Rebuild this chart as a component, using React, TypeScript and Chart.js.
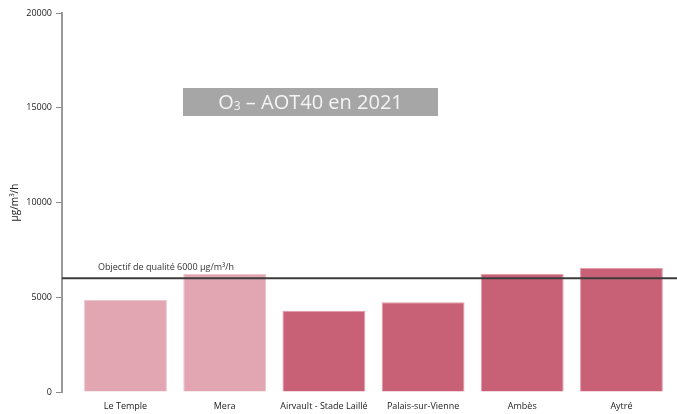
import React, { useEffect, useRef } from "react";
import { Chart, registerables } from "chart.js";

Chart.register(...registerables);

const stations = ["Le Temple", "Mera", "Airvault - Stade Laillé", "Palais-sur-Vienne", "Ambès", "Aytré"];
const aot40 = [4850, 6230, 4290, 4730, 6240, 6540];
const barFill = ["#e1a6b2", "#e1a6b2", "#c96176", "#c96176", "#c96176", "#c96176"];
const barEdge = ["#ecc4cc", "#ecc4cc", "#e39aa9", "#e39aa9", "#e39aa9", "#e39aa9"];
const yTicks = [0, 5000, 10000, 15000, 20000];
const objective = 6000;
const objectiveLabel = "Objectif de qualité 6000 µg/m³/h";
const yTitle = "µg/m³/h";
const FONT = "'Open Sans', 'Noto Sans', sans-serif";

const overlay = {
  id: "overlay",
  afterDatasetsDraw(chart: any) {
    const { ctx, chartArea, scales } = chart;
    const y = scales.y.getPixelForValue(objective);
    ctx.save();
    ctx.strokeStyle = "#3c3c3c";
    ctx.lineWidth = 2;
    ctx.beginPath();
    ctx.moveTo(chartArea.left, y);
    ctx.lineTo(chart.width, y);
    ctx.stroke();
    ctx.fillStyle = "#333";
    ctx.font = `9px ${FONT}`;
    ctx.textAlign = "left";
    ctx.textBaseline = "alphabetic";
    ctx.fillText(objectiveLabel, chartArea.left + 36, y - 8);

    const bx = chartArea.left + 121;
    const by = chartArea.top + 75;
    const bw = 255;
    const bh = 28;
    ctx.fillStyle = "#a6a6a6";
    ctx.fillRect(bx, by, bw, bh);
    ctx.fillStyle = "#f4f4f4";
    const main = `20px ${FONT}`;
    const sub = `12px ${FONT}`;
    const p1 = "O";
    const p2 = "3";
    const p3 = " – AOT40 en 2021";
    ctx.font = main;
    const w1 = ctx.measureText(p1).width;
    const w3 = ctx.measureText(p3).width;
    ctx.font = sub;
    const w2 = ctx.measureText(p2).width;
    let tx = bx + (bw - (w1 + w2 + w3)) / 2;
    const base = by + 21;
    ctx.font = main;
    ctx.fillText(p1, tx, base);
    tx += w1;
    ctx.font = sub;
    ctx.fillText(p2, tx, base + 1);
    tx += w2;
    ctx.font = main;
    ctx.fillText(p3, tx, base);
    ctx.restore();
  },
};

export default function App() {
  const ref = useRef<HTMLCanvasElement>(null);
  useEffect(() => {
    if (!ref.current) return;
    const chart = new Chart(ref.current, {
      type: "bar",
      data: {
        datasets: [
          {
            data: aot40.map((v, i) => ({ x: i, y: v })),
            backgroundColor: barFill,
            borderColor: barEdge,
            borderWidth: 1,
            categoryPercentage: 1,
            barPercentage: 0.835,
          },
        ],
      },
      options: {
        responsive: false,
        animation: false,
        layout: { padding: { top: 13, left: 0, right: 0, bottom: 0 } },
        plugins: { legend: { display: false }, tooltip: { enabled: false }, title: { display: false } },
        scales: {
          x: {
            type: "linear",
            offset: false,
            min: -0.64,
            max: 5.56,
            grid: { display: false, drawTicks: false, offset: false },
            border: { display: false },
            afterBuildTicks: (s: any) => {
              s.ticks = stations.map((_, i) => ({ value: i }));
            },
            afterFit: (s: any) => {
              s.height = 22;
            },
            ticks: {
              autoSkip: false,
              maxRotation: 0,
              padding: 9,
              color: "#222",
              font: { family: FONT, size: 9 },
              callback: (v: any) => stations[v] ?? "",
            },
          },
          y: {
            min: 0,
            max: 20000,
            afterBuildTicks: (s: any) => {
              s.ticks = yTicks.map((v) => ({ value: v }));
            },
            afterFit: (s: any) => {
              s.width = 62;
            },
            grid: { drawOnChartArea: false, tickLength: 6, color: "#888", tickWidth: 1 },
            border: { display: true, color: "#999", width: 2 },
            ticks: {
              padding: 4,
              color: "#222",
              font: { family: FONT, size: 9 },
              callback: (v: any) => String(v),
            },
            title: {
              display: true,
              text: yTitle,
              color: "#222",
              font: { family: FONT, size: 10 },
              padding: { top: 9, bottom: 0 },
            },
          },
        },
      },
      plugins: [overlay],
    });
    return () => chart.destroy();
  }, []);
  return (
    <div style={{ position: "fixed", left: 0, top: 0, width: 677, height: 414, background: "#fff" }}>
      <canvas ref={ref} width={677} height={414} style={{ display: "block" }} />
    </div>
  );
}
